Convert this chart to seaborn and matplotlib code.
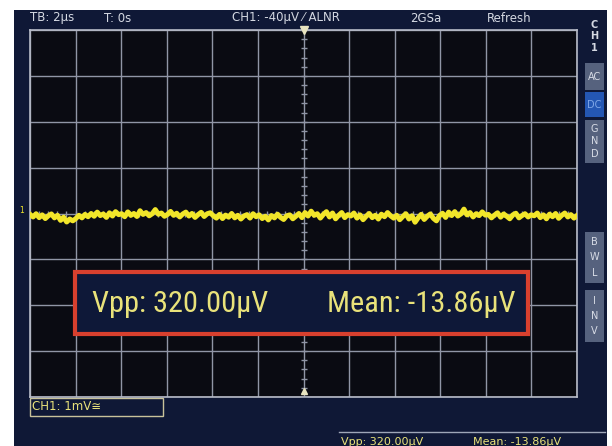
import numpy as np
import pandas as pd
import matplotlib
matplotlib.use("Agg")
import matplotlib.pyplot as plt
from matplotlib.patches import Rectangle
from matplotlib import font_manager
import seaborn as sns

# ---------------- data ----------------
time_div_us = 2.0          # TB: 2 µs / div
volt_div_uv = 1000.0       # CH1: 1 mV / div
n_xdiv, n_ydiv = 12, 8

trace_uv = [
    -20, -75, -5, -90, -30, -110, -50, -10, -95, -40, -150, -80, -185, -120, -160,
    -110, -40, -95, -20, -70, 0, -60, 30, -45, -10, -85, 15, -55, 40, -25,
    -5, -70, 35, -40, 0, -65, 60, -20, 20, -50, -5, 85, -15, 10, -60,
    -20, 45, -40, 5, -75, -10, 30, -55, 0, -85, -25, 25, -65, -5, 15,
    -50, -100, -20, -110, -35, -80, 0, -95, -40, -120, -55, -25, -100, -5, -70,
    -30, -110, -60, -140, -45, -95, -15, -85, -130, -50, -30, -115, -60, 0, -90,
    20, -55, 50, -40, -5, -100, -20, 40, -75, 10, -115, -40, 20, -90, -25,
    -55, 10, -100, -30, -135, -60, 0, -90, -40, -120, -15, -70, 20, -50, -100,
    -40, -135, -65, -5, -120, -50, -190, -95, -20, -130, -60, -10, -105, -160, -45,
    5, -85, 30, -45, 40, -55, -10, 95, -30, 20, -75, -5, -45, 35, -35,
    -20, -95, -35, 15, -80, -10, -60, -115, -30, 5, -95, -45, -5, -75, -30,
    -50, 10, -90, -30, -115, -15, -70, 0, -105, -40, 10, -75, -25, -100, -45,
]
t_half = n_xdiv / 2 * time_div_us
time_us = np.linspace(-t_half, t_half, len(trace_uv))
df = pd.DataFrame({"time_us": time_us, "volt_uv": trace_uv})

top_labels = ["TB: 2µs", "T: 0s", "CH1: -40µV ⁄ ALNR", "2GSa", "Refresh"]
measure_vpp = "Vpp: 320.00µV"
measure_mean = "Mean: -13.86µV"
ch_scale_label = "CH1: 1mV≅"

# ---------------- style ----------------
W, H = 612, 446
NAVY = "#0f1836"
SCREEN = "#0a0b12"
GRID = "#9096a6"
YELLOW = "#f2e62a"
TXT = "#d4d8e2"
MTXT = "#e9e27a"

# pick the narrowest available sans family for the overlay
cands = ["Liberation Sans Narrow", "Roboto Condensed", "Open Sans Condensed",
         "Noto Sans Condensed", "Roboto", "Liberation Sans"]
narrow_family = "DejaVu Sans"
for c in cands:
    try:
        font_manager.findfont(font_manager.FontProperties(family=c), fallback_to_default=False)
        narrow_family = c
        break
    except Exception:
        pass

fig = plt.figure(figsize=(W / 100, H / 100), dpi=100, facecolor="white")

def fx(px):
    return px / W

def fy(py):
    return 1 - py / H

# navy instrument background
fig.patches.append(Rectangle((fx(14), 0), fx(607) - fx(14), fy(10), transform=fig.transFigure,
                             facecolor=NAVY, edgecolor="none", zorder=-10))

ax = fig.add_axes([fx(30), fy(397), fx(577) - fx(30), fy(30) - fy(397)])
ax.set_zorder(2)
ax.set_facecolor(SCREEN)
sns.lineplot(data=df, x="time_us", y="volt_uv", ax=ax, color=YELLOW, linewidth=3.6, zorder=5)

ax.set_xlim(-t_half, t_half)
ax.set_ylim(-n_ydiv / 2 * volt_div_uv, n_ydiv / 2 * volt_div_uv)
ax.set_xticks(np.arange(-t_half, t_half + 0.1, time_div_us))
ax.set_yticks(np.arange(-n_ydiv / 2 * volt_div_uv, n_ydiv / 2 * volt_div_uv + 1, volt_div_uv))
ax.grid(True, color=GRID, linewidth=1.0)
ax.set_axisbelow(True)
ax.tick_params(length=0, labelbottom=False, labelleft=False)
ax.set_xlabel("")
ax.set_ylabel("")
for s in ax.spines.values():
    s.set_color("#b8bcc8")
    s.set_linewidth(1.2)

# centre-axis sub-division ticks
sub_y = np.arange(-n_ydiv / 2 * volt_div_uv, n_ydiv / 2 * volt_div_uv + 1, volt_div_uv / 5)
ax.plot(np.zeros_like(sub_y), sub_y, linestyle="none", marker="_", markersize=5,
        color=GRID, markeredgewidth=1.0, zorder=3)
sub_x = np.arange(-t_half, t_half + 0.01, time_div_us / 5)
ax.plot(sub_x, np.zeros_like(sub_x), linestyle="none", marker="|", markersize=5,
        color=GRID, markeredgewidth=1.0, zorder=3)

# trigger markers
ax.plot([0], [n_ydiv / 2 * volt_div_uv], marker="v", markersize=6, color="#e8e4c0",
        clip_on=False, zorder=6)
ax.plot([0], [-n_ydiv / 2 * volt_div_uv + 120], marker="^", markersize=5, color="#e8e4c0",
        clip_on=False, zorder=6)
fig.text(fx(22), fy(211), "1", color=YELLOW, fontsize=5.5, ha="center", va="center")

# top status bar
top_x = [30, 104, 232, 410, 487]
for x, lab in zip(top_x, top_labels):
    fig.text(fx(x), fy(18), lab, color=TXT, fontsize=8.5, ha="left", va="center",
             family=["DejaVu Sans"])

# right side panel
for py, ch in zip([25, 36, 48], ["C", "H", "1"]):
    fig.text(fx(594), fy(py), ch, color=TXT, fontsize=7, ha="center", va="center",
             fontweight="bold")
buttons = [(63, 90, "AC", False), (92, 117, "DC", True), (120, 163, "GND", False),
           (232, 283, "BWL", False), (290, 342, "INV", False)]
for top, bot, lab, active in buttons:
    fc = "#2457b4" if active else "#56627e"
    tc = "#7fa6e6" if active else "#d8dce6"
    fig.patches.append(Rectangle((fx(585), fy(bot)), fx(604) - fx(585), fy(top) - fy(bot),
                                 transform=fig.transFigure, facecolor=fc, edgecolor="none"))
    if lab in ("AC", "DC"):
        fig.text(fx(594.5), fy((top + bot) / 2), lab, color=tc, fontsize=7,
                 ha="center", va="center")
    else:
        n = len(lab)
        step = (bot - top) / (n + 0.4)
        for i, c in enumerate(lab):
            fig.text(fx(594.5), fy(top + step * (i + 0.7)), c, color=tc, fontsize=7,
                     ha="center", va="center")

# bottom channel label box
fig.patches.append(Rectangle((fx(30), fy(416)), fx(163) - fx(30), fy(398) - fy(416),
                             transform=fig.transFigure, facecolor=NAVY,
                             edgecolor="#c8c29a", linewidth=1.0))
fig.text(fx(32), fy(407), ch_scale_label, color=MTXT, fontsize=8.5, ha="left", va="center")

# bottom-right measurement strip
fig.add_artist(plt.Line2D([fx(339), fx(605)], [fy(432), fy(432)], color="#9ea6b8",
                          linewidth=1.0, transform=fig.transFigure))
fig.text(fx(341), fy(437), measure_vpp, color=MTXT, fontsize=8, ha="left", va="top")
fig.text(fx(473), fy(437), measure_mean, color=MTXT, fontsize=8, ha="left", va="top")

# big measurement overlay box
fig.patches.append(Rectangle((fx(75), fy(334)), fx(528) - fx(75), fy(272) - fy(334),
                             transform=fig.transFigure, facecolor="#0e1838",
                             edgecolor="#d8402e", linewidth=3.0, zorder=10))
t1 = fig.text(fx(92), fy(304), measure_vpp, color=MTXT, fontsize=22, ha="left", va="center",
              family=[narrow_family, "DejaVu Sans"], zorder=11)
t2 = fig.text(fx(327), fy(304), measure_mean, color=MTXT, fontsize=22, ha="left", va="center",
              family=[narrow_family, "DejaVu Sans"], zorder=11)
# fit the overlay text width to the reference (~176 px for the Vpp label)
r = fig.canvas.get_renderer()
w1 = t1.get_window_extent(r).width
fs = min(26, 22 * 176.0 / w1)
t1.set_fontsize(fs)
t2.set_fontsize(fs)

fig.savefig("out.png", dpi=100, facecolor="white")
